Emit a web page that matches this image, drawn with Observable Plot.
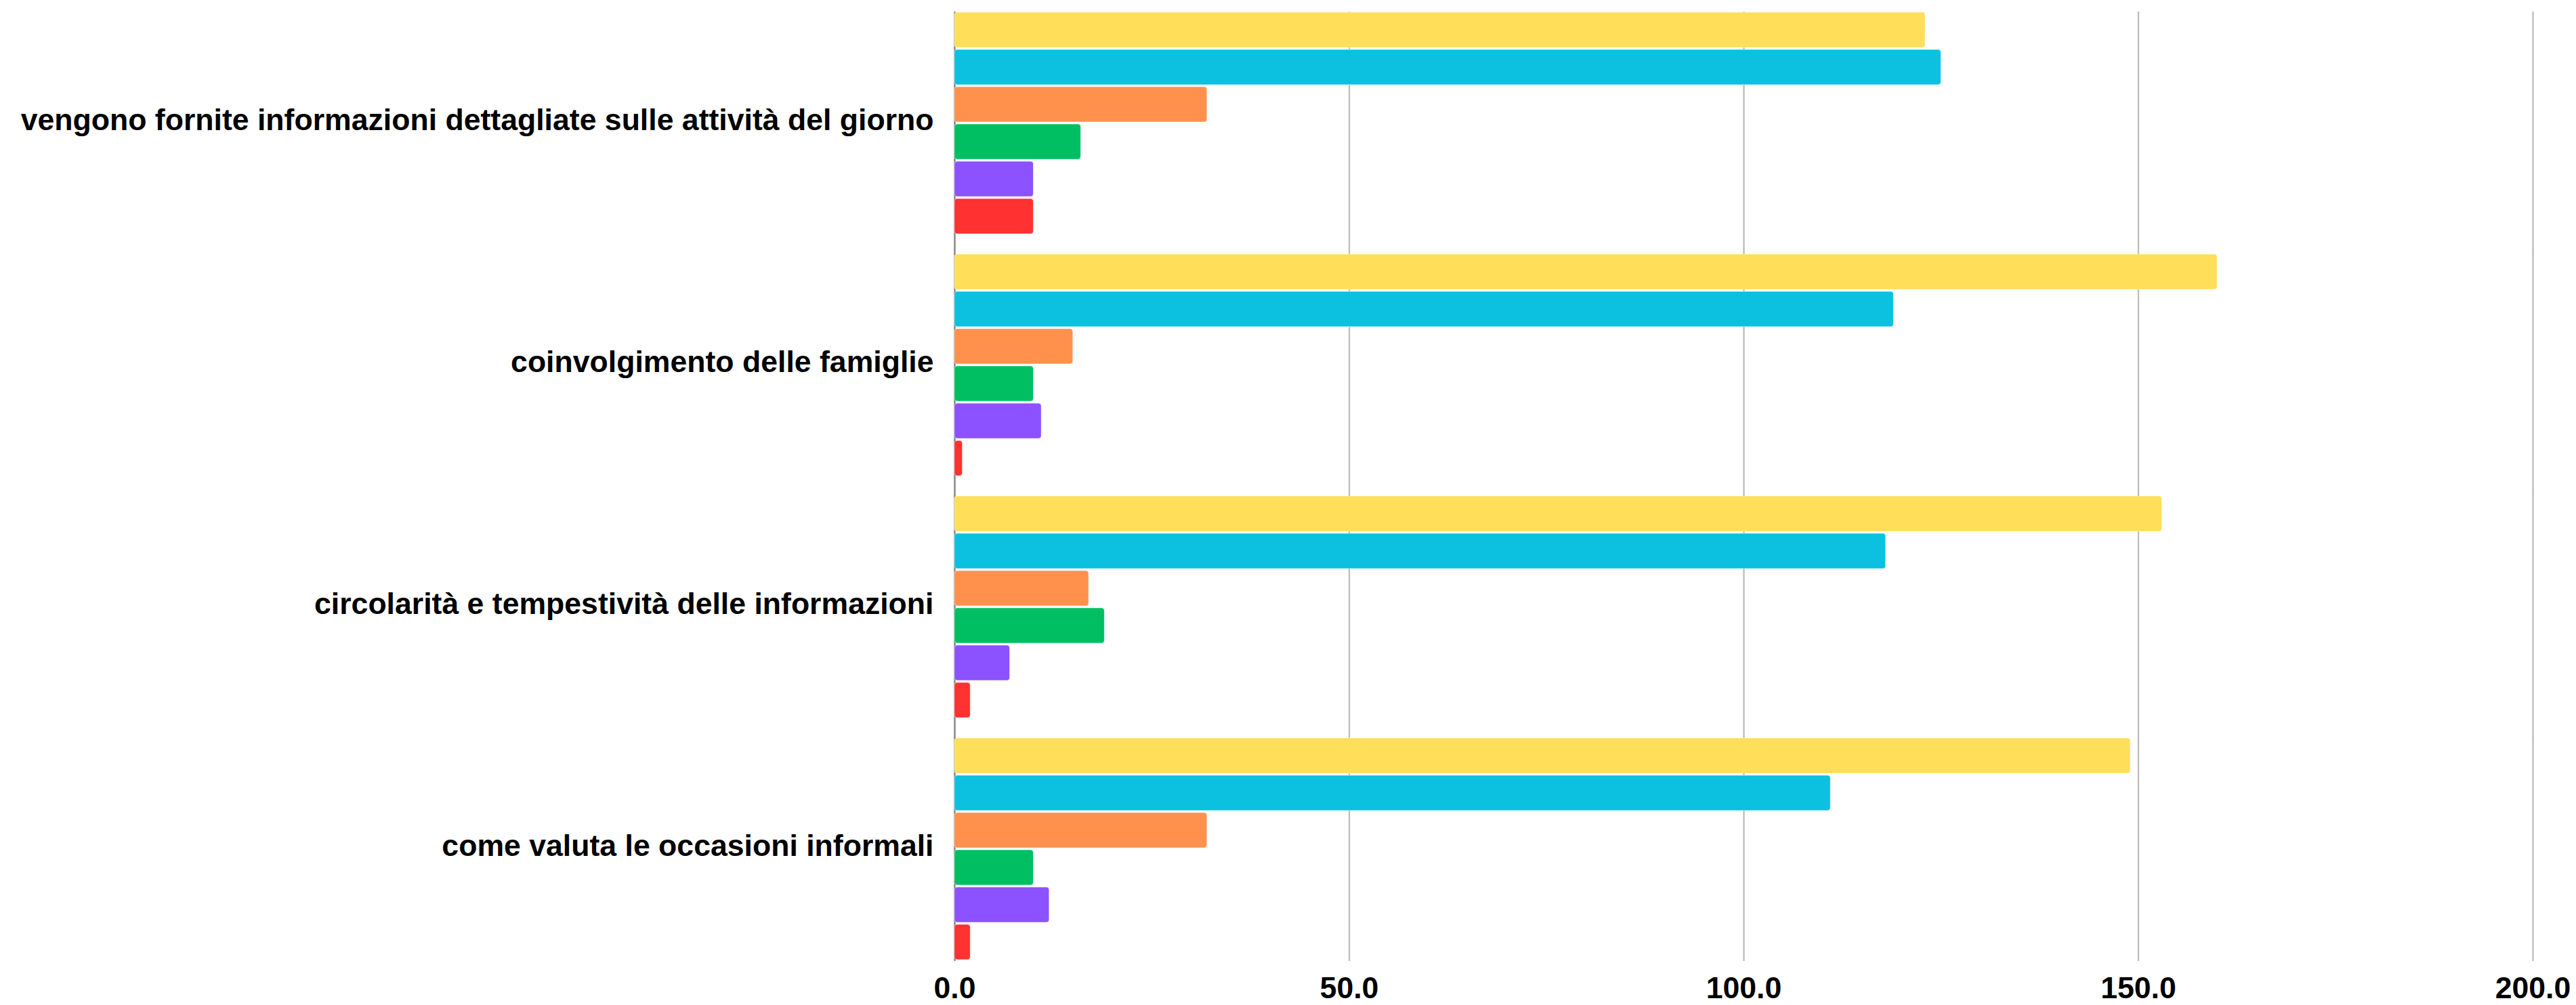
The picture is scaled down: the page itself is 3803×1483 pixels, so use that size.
<!DOCTYPE html>
<html>
<head>
<meta charset="utf-8">
<script src="https://cdn.jsdelivr.net/npm/d3@7"></script>
<script src="https://cdn.jsdelivr.net/npm/@observablehq/plot@0.6"></script>
<style>
  html, body { margin: 0; padding: 0; background: #ffffff; overflow: hidden; }
  #chart svg { display: block; }
</style>
</head>
<body>
<div id="chart"></div>
<script>
// Categories (top to bottom)
const categories = [
  "vengono fornite informazioni dettagliate sulle attività del giorno",
  "coinvolgimento delle famiglie",
  "circolarità e tempestività delle informazioni",
  "come valuta le occasioni informali"
];
// Series (top to bottom within each group)
const series = ["ottimo", "buono", "discreto", "sufficiente", "insufficiente", "scarso"];
const seriesColors = ["#FFDE59", "#0CC0DF", "#FF914D", "#00BF63", "#8C52FF", "#FF3131"];

// Values per series, in category order
const ottimo        = [123, 160, 153, 149];
const buono         = [125, 119, 118, 111];
const discreto      = [32, 15, 17, 32];
const sufficiente   = [16, 10, 19, 10];
const insufficiente = [10, 11, 7, 12];
const scarso        = [10, 1, 2, 2];

const xTicks = [0, 50, 100, 150, 200];

const seriesValues = [ottimo, buono, discreto, sufficiente, insufficiente, scarso];
const data = [];
categories.forEach((c, i) => {
  series.forEach((s, j) => {
    data.push({category: c, series: s, value: seriesValues[j][i]});
  });
});

// grid rules per facet (those above the last one extend into the gap below)
const gridUpper = [], gridLast = [], axisUpper = [], axisLast = [];
categories.forEach((c, i) => {
  xTicks.forEach(t => {
    const row = {category: c, x: t};
    if (t === 0) (i < categories.length - 1 ? axisUpper : axisLast).push(row);
    else (i < categories.length - 1 ? gridUpper : gridLast).push(row);
  });
});

const gridStyle = {stroke: "#bcbcbc", strokeWidth: 2.3};
const axisStyle = {stroke: "#888888", strokeWidth: 2.5};

const chart = Plot.plot({
  width: 3803,
  height: 1483,
  marginTop: 17,
  marginBottom: 64,
  marginLeft: 1409,
  marginRight: 64,
  style: {fontFamily: "'Liberation Sans', Arial, sans-serif", fontSize: "44.6px", fontWeight: "bold", color: "#000", background: "#fff"},
  x: {domain: [0, 200], ticks: xTicks, tickFormat: d3.format(".1f"), tickSize: 0, tickPadding: 23, label: null},
  y: {domain: series, paddingInner: 0.054, paddingOuter: 0, axis: null},
  fy: {domain: categories, paddingInner: 0.0745, paddingOuter: 0, axis: null},
  color: {domain: series, range: seriesColors},
  marks: [
    Plot.ruleX(gridUpper, {x: "x", fy: "category", insetBottom: -28, ...gridStyle}),
    Plot.ruleX(gridLast, {x: "x", fy: "category", ...gridStyle}),
    Plot.ruleX(axisUpper, {x: "x", fy: "category", insetBottom: -28, ...axisStyle}),
    Plot.ruleX(axisLast, {x: "x", fy: "category", ...axisStyle}),
    Plot.barX(data, {x: "value", y: "series", fy: "category", fill: "series", rx: 4, stroke: "#ffffff", strokeOpacity: 0.5, strokeWidth: 1}),
    Plot.axisFy({anchor: "left", tickSize: 0, tickPadding: 31, label: null, dy: -5})
  ]
});
document.getElementById("chart").appendChild(chart);
</script>
</body>
</html>
